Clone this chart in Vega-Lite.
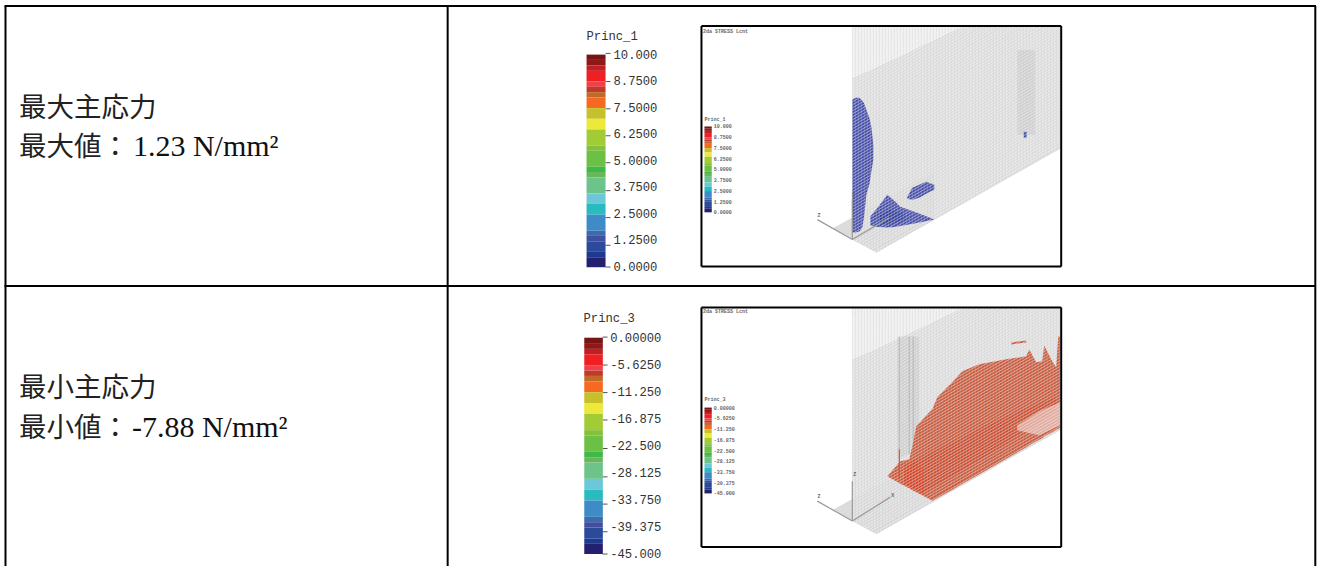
{"$schema":"https://vega.github.io/schema/vega-lite/v6.json","width":1317,"height":567,"padding":0,"autosize":{"type":"fit","contains":"padding"},"background":"white","view":{"stroke":null},
"encoding":{"x":{"field":"x","type":"quantitative","scale":{"domain":[0,1317],"nice":false,"zero":false},"axis":null},"y":{"field":"y","type":"quantitative","scale":{"domain":[0,567],"reverse":true,"nice":false,"zero":false},"axis":null}},
"resolve":{"scale":{"color":"independent"}},
"layer":[
{"data":{"values":[
{"region":"w1","kind":"wall","x":853,"y":78,"y2":240},{"region":"w1","kind":"wall","x":877,"y":67,"y2":253},{"region":"w1","kind":"wall","x":962,"y":27,"y2":205},{"region":"w1","kind":"wall","x":1061,"y":27,"y2":149},
{"region":"t1","kind":"top","x":853,"y":27,"y2":78},{"region":"t1","kind":"top","x":962,"y":27,"y2":27},
{"region":"p1","kind":"plate","x":833,"y":229,"y2":229},{"region":"p1","kind":"plate","x":853,"y":218,"y2":240},{"region":"p1","kind":"plate","x":877,"y":204,"y2":253},{"region":"p1","kind":"plate","x":935,"y":172,"y2":220},
{"region":"w2","kind":"wall","x":853,"y":360,"y2":522},{"region":"w2","kind":"wall","x":877,"y":349,"y2":535},{"region":"w2","kind":"wall","x":962,"y":309,"y2":487},{"region":"w2","kind":"wall","x":1061,"y":309,"y2":431},
{"region":"t2","kind":"top","x":853,"y":309,"y2":360},{"region":"t2","kind":"top","x":962,"y":309,"y2":309},
{"region":"p2","kind":"plate","x":833,"y":511,"y2":511},{"region":"p2","kind":"plate","x":853,"y":500,"y2":522},{"region":"p2","kind":"plate","x":877,"y":486,"y2":535},{"region":"p2","kind":"plate","x":935,"y":454,"y2":502},
{"region":"s1","kind":"shade","x":1018,"y":50,"y2":135},{"region":"s1","kind":"shade","x":1036,"y":50,"y2":135},
{"region":"s2","kind":"shade","x":898,"y":337,"y2":460},{"region":"s2","kind":"shade","x":920,"y":337,"y2":450},
{"region":"b1","kind":"blue","x":853,"y":100,"y2":233},{"region":"b1","kind":"blue","x":856,"y":98,"y2":233},{"region":"b1","kind":"blue","x":860,"y":98,"y2":232},{"region":"b1","kind":"blue","x":863,"y":101,"y2":228},{"region":"b1","kind":"blue","x":865,"y":104,"y2":215},{"region":"b1","kind":"blue","x":867,"y":110,"y2":195},{"region":"b1","kind":"blue","x":870,"y":118,"y2":185},{"region":"b1","kind":"blue","x":872,"y":127,"y2":172},{"region":"b1","kind":"blue","x":874,"y":145,"y2":160},
{"region":"b2","kind":"blue","x":871,"y":217,"y2":226},{"region":"b2","kind":"blue","x":879,"y":207,"y2":227.5},{"region":"b2","kind":"blue","x":888,"y":195,"y2":228},{"region":"b2","kind":"blue","x":895,"y":201,"y2":227.5},{"region":"b2","kind":"blue","x":901,"y":207,"y2":226.5},{"region":"b2","kind":"blue","x":915,"y":212,"y2":224},{"region":"b2","kind":"blue","x":925,"y":216,"y2":222},{"region":"b2","kind":"blue","x":935,"y":220,"y2":220},
{"region":"b3","kind":"blue","x":908,"y":197,"y2":199},{"region":"b3","kind":"blue","x":913,"y":188,"y2":200},{"region":"b3","kind":"blue","x":920,"y":185,"y2":198},{"region":"b3","kind":"blue","x":927,"y":182,"y2":194},{"region":"b3","kind":"blue","x":935,"y":185,"y2":190},
{"region":"b4","kind":"blue","x":1024.5,"y":132,"y2":138},{"region":"b4","kind":"blue","x":1027.5,"y":132,"y2":138},
{"region":"b5","kind":"blueCore","x":880,"y":216,"y2":224},{"region":"b5","kind":"blueCore","x":890,"y":210,"y2":225},{"region":"b5","kind":"blueCore","x":905,"y":214,"y2":220},
{"region":"r1","kind":"red","x":888,"y":477,"y2":477},{"region":"r1","kind":"red","x":901,"y":462,"y2":484.5},{"region":"r1","kind":"red","x":910,"y":460,"y2":489},{"region":"r1","kind":"red","x":913,"y":447,"y2":491},{"region":"r1","kind":"red","x":917,"y":427,"y2":493},{"region":"r1","kind":"red","x":930,"y":413,"y2":500},{"region":"r1","kind":"red","x":933,"y":410,"y2":501.7},{"region":"r1","kind":"red","x":938,"y":398,"y2":499},{"region":"r1","kind":"red","x":953,"y":383,"y2":490.7},{"region":"r1","kind":"red","x":963,"y":372,"y2":484.5},{"region":"r1","kind":"red","x":980,"y":365,"y2":475},{"region":"r1","kind":"red","x":1007,"y":360,"y2":459.5},{"region":"r1","kind":"red","x":1027,"y":357,"y2":448},{"region":"r1","kind":"red","x":1030,"y":350,"y2":446},{"region":"r1","kind":"red","x":1037,"y":363,"y2":442},{"region":"r1","kind":"red","x":1043,"y":362,"y2":439},{"region":"r1","kind":"red","x":1045,"y":346,"y2":437},{"region":"r1","kind":"red","x":1053,"y":362,"y2":433},{"region":"r1","kind":"red","x":1057,"y":368,"y2":430.5},{"region":"r1","kind":"red","x":1059,"y":337,"y2":429.5},{"region":"r1","kind":"red","x":1061,"y":337,"y2":428.5},
{"region":"r2","kind":"red","x":1012,"y":343,"y2":345},{"region":"r2","kind":"red","x":1027,"y":341,"y2":343},
{"region":"r3","kind":"redBand","x":905,"y":465,"y2":484},{"region":"r3","kind":"redBand","x":923,"y":457,"y2":494},{"region":"r3","kind":"redBand","x":960,"y":440,"y2":473},{"region":"r3","kind":"redBand","x":1000,"y":420,"y2":448},{"region":"r3","kind":"redBand","x":1057,"y":398,"y2":412},
{"region":"r4","kind":"redCore","x":905,"y":470,"y2":485},{"region":"r4","kind":"redCore","x":915,"y":462,"y2":490},{"region":"r4","kind":"redCore","x":925,"y":470,"y2":496},
{"region":"r5","kind":"whiten","x":1018,"y":426,"y2":431},{"region":"r5","kind":"whiten","x":1040,"y":412,"y2":436},{"region":"r5","kind":"whiten","x":1061,"y":403,"y2":426}
]},
"mark":{"type":"area","orient":"vertical","stroke":null},
"encoding":{"y2":{"field":"y2"},"detail":{"field":"region"},"color":{"field":"kind","type":"nominal","legend":null,"scale":{"domain":["wall","top","plate","shade","blue","blueCore","red","redBand","redCore","whiten"],"range":["#e0e0e0","#f0f0f0","#dcdcdc","rgba(150,150,150,0.2)","rgba(60,70,165,0.95)","rgba(40,50,150,0.6)","rgba(200,80,50,0.95)","rgba(205,55,25,0.35)","rgba(225,50,20,0.45)","rgba(255,255,255,0.5)"]}}}},

{"data":{"values":[
{"x":853,"y":36,"x2":869,"y2":27},{"x":853,"y":42,"x2":879,"y2":27},{"x":853,"y":48,"x2":890,"y2":27},{"x":853,"y":54,"x2":900,"y2":27},{"x":853,"y":60,"x2":911,"y2":27},{"x":853,"y":66,"x2":921,"y2":27},{"x":853,"y":72,"x2":932,"y2":27},{"x":853,"y":78,"x2":942,"y2":27},{"x":853,"y":84,"x2":953,"y2":27},{"x":853,"y":90,"x2":964,"y2":27},{"x":853,"y":96,"x2":974,"y2":27},{"x":853,"y":102,"x2":985,"y2":27},{"x":853,"y":108,"x2":995,"y2":27},{"x":853,"y":114,"x2":1006,"y2":27},{"x":853,"y":120,"x2":1016,"y2":27},{"x":853,"y":126,"x2":1027,"y2":27},{"x":853,"y":132,"x2":1037,"y2":27},{"x":853,"y":138,"x2":1048,"y2":27},{"x":853,"y":144,"x2":1058,"y2":27},
{"x":853,"y":150,"x2":1061,"y2":31},{"x":853,"y":156,"x2":1061,"y2":37},{"x":853,"y":162,"x2":1061,"y2":43},{"x":853,"y":168,"x2":1061,"y2":49},{"x":853,"y":174,"x2":1061,"y2":55},{"x":853,"y":180,"x2":1061,"y2":61},{"x":853,"y":186,"x2":1061,"y2":67},{"x":853,"y":192,"x2":1061,"y2":73},{"x":853,"y":198,"x2":1061,"y2":79},{"x":853,"y":204,"x2":1061,"y2":85},{"x":853,"y":210,"x2":1061,"y2":91},{"x":853,"y":216,"x2":1061,"y2":97},{"x":853,"y":222,"x2":1061,"y2":103},{"x":853,"y":228,"x2":1061,"y2":109},{"x":853,"y":234,"x2":1061,"y2":115},{"x":853,"y":240,"x2":1061,"y2":121},{"x":858,"y":243,"x2":1061,"y2":127},{"x":864,"y":246,"x2":1061,"y2":133},{"x":869,"y":249,"x2":1061,"y2":139},{"x":875,"y":252,"x2":1061,"y2":145},
{"x":853,"y":39,"x2":874,"y2":27},{"x":853,"y":45,"x2":885,"y2":27},{"x":853,"y":51,"x2":895,"y2":27},{"x":853,"y":57,"x2":906,"y2":27},{"x":853,"y":63,"x2":916,"y2":27},{"x":853,"y":69,"x2":927,"y2":27},{"x":853,"y":75,"x2":937,"y2":27},{"x":853,"y":81,"x2":948,"y2":27},{"x":853,"y":87,"x2":958,"y2":27},{"x":853,"y":93,"x2":969,"y2":27},{"x":853,"y":99,"x2":979,"y2":27},{"x":853,"y":105,"x2":990,"y2":27},{"x":853,"y":111,"x2":1000,"y2":27},{"x":853,"y":117,"x2":1011,"y2":27},{"x":853,"y":123,"x2":1021,"y2":27},{"x":853,"y":129,"x2":1032,"y2":27},{"x":853,"y":135,"x2":1042,"y2":27},{"x":853,"y":141,"x2":1053,"y2":27},{"x":853,"y":147,"x2":1061,"y2":28},
{"x":853,"y":153,"x2":1061,"y2":34},{"x":853,"y":159,"x2":1061,"y2":40},{"x":853,"y":165,"x2":1061,"y2":46},{"x":853,"y":171,"x2":1061,"y2":52},{"x":853,"y":177,"x2":1061,"y2":58},{"x":853,"y":183,"x2":1061,"y2":64},{"x":853,"y":189,"x2":1061,"y2":70},{"x":853,"y":195,"x2":1061,"y2":76},{"x":853,"y":201,"x2":1061,"y2":82},{"x":853,"y":207,"x2":1061,"y2":88},{"x":853,"y":213,"x2":1061,"y2":94},{"x":853,"y":219,"x2":1061,"y2":100},{"x":853,"y":225,"x2":1061,"y2":106},{"x":853,"y":231,"x2":1061,"y2":112},{"x":853,"y":237,"x2":1061,"y2":118},{"x":856,"y":241.5,"x2":1061,"y2":124},{"x":861,"y":244.4,"x2":1061,"y2":130},{"x":866.5,"y":247.4,"x2":1061,"y2":136},{"x":872,"y":250,"x2":1061,"y2":142},
{"x":853,"y":318,"x2":869,"y2":309},{"x":853,"y":324,"x2":879,"y2":309},{"x":853,"y":330,"x2":890,"y2":309},{"x":853,"y":336,"x2":900,"y2":309},{"x":853,"y":342,"x2":911,"y2":309},{"x":853,"y":348,"x2":921,"y2":309},{"x":853,"y":354,"x2":932,"y2":309},{"x":853,"y":360,"x2":942,"y2":309},{"x":853,"y":366,"x2":953,"y2":309},{"x":853,"y":372,"x2":964,"y2":309},{"x":853,"y":378,"x2":974,"y2":309},{"x":853,"y":384,"x2":985,"y2":309},{"x":853,"y":390,"x2":995,"y2":309},{"x":853,"y":396,"x2":1006,"y2":309},{"x":853,"y":402,"x2":1016,"y2":309},{"x":853,"y":408,"x2":1027,"y2":309},{"x":853,"y":414,"x2":1037,"y2":309},{"x":853,"y":420,"x2":1048,"y2":309},{"x":853,"y":426,"x2":1058,"y2":309},
{"x":853,"y":432,"x2":1061,"y2":313},{"x":853,"y":438,"x2":1061,"y2":319},{"x":853,"y":444,"x2":1061,"y2":325},{"x":853,"y":450,"x2":1061,"y2":331},{"x":853,"y":456,"x2":1061,"y2":337},{"x":853,"y":462,"x2":1061,"y2":343},{"x":853,"y":468,"x2":1061,"y2":349},{"x":853,"y":474,"x2":1061,"y2":355},{"x":853,"y":480,"x2":1061,"y2":361},{"x":853,"y":486,"x2":1061,"y2":367},{"x":853,"y":492,"x2":1061,"y2":373},{"x":853,"y":498,"x2":1061,"y2":379},{"x":853,"y":504,"x2":1061,"y2":385},{"x":853,"y":510,"x2":1061,"y2":391},{"x":853,"y":516,"x2":1061,"y2":397},{"x":853,"y":522,"x2":1061,"y2":403},{"x":858,"y":525,"x2":1061,"y2":409},{"x":864,"y":528,"x2":1061,"y2":415},{"x":869,"y":531,"x2":1061,"y2":421},{"x":875,"y":534,"x2":1061,"y2":427},
{"x":853,"y":321,"x2":874,"y2":309},{"x":853,"y":327,"x2":885,"y2":309},{"x":853,"y":333,"x2":895,"y2":309},{"x":853,"y":339,"x2":906,"y2":309},{"x":853,"y":345,"x2":916,"y2":309},{"x":853,"y":351,"x2":927,"y2":309},{"x":853,"y":357,"x2":937,"y2":309},{"x":853,"y":363,"x2":948,"y2":309},{"x":853,"y":369,"x2":958,"y2":309},{"x":853,"y":375,"x2":969,"y2":309},{"x":853,"y":381,"x2":979,"y2":309},{"x":853,"y":387,"x2":990,"y2":309},{"x":853,"y":393,"x2":1000,"y2":309},{"x":853,"y":399,"x2":1011,"y2":309},{"x":853,"y":405,"x2":1021,"y2":309},{"x":853,"y":411,"x2":1032,"y2":309},{"x":853,"y":417,"x2":1042,"y2":309},{"x":853,"y":423,"x2":1053,"y2":309},{"x":853,"y":429,"x2":1061,"y2":310},
{"x":853,"y":435,"x2":1061,"y2":316},{"x":853,"y":441,"x2":1061,"y2":322},{"x":853,"y":447,"x2":1061,"y2":328},{"x":853,"y":453,"x2":1061,"y2":334},{"x":853,"y":459,"x2":1061,"y2":340},{"x":853,"y":465,"x2":1061,"y2":346},{"x":853,"y":471,"x2":1061,"y2":352},{"x":853,"y":477,"x2":1061,"y2":358},{"x":853,"y":483,"x2":1061,"y2":364},{"x":853,"y":489,"x2":1061,"y2":370},{"x":853,"y":495,"x2":1061,"y2":376},{"x":853,"y":501,"x2":1061,"y2":382},{"x":853,"y":507,"x2":1061,"y2":388},{"x":853,"y":513,"x2":1061,"y2":394},{"x":853,"y":519,"x2":1061,"y2":400},{"x":856,"y":523.5,"x2":1061,"y2":406},{"x":861,"y":526.4,"x2":1061,"y2":412},{"x":866.5,"y":529.4,"x2":1061,"y2":418},{"x":872,"y":532,"x2":1061,"y2":424}
]},"mark":{"type":"rule","color":"#ffffff","strokeWidth":0.8,"opacity":0.6},"encoding":{"x2":{"field":"x2"},"y2":{"field":"y2"}}},

{"data":{"values":[
{"x":853,"y":27,"y2":240},{"x":859,"y":27,"y2":243},{"x":865,"y":27,"y2":246},{"x":871,"y":27,"y2":250},{"x":877,"y":27,"y2":253},{"x":883,"y":27,"y2":250},{"x":889,"y":27,"y2":246},{"x":895,"y":27,"y2":243},{"x":901,"y":27,"y2":239},{"x":907,"y":27,"y2":236},{"x":913,"y":27,"y2":232},{"x":919,"y":27,"y2":229},{"x":925,"y":27,"y2":226},{"x":931,"y":27,"y2":222},{"x":937,"y":27,"y2":219},{"x":943,"y":27,"y2":216},{"x":949,"y":27,"y2":212},{"x":955,"y":27,"y2":209},{"x":961,"y":27,"y2":205},{"x":967,"y":27,"y2":202},{"x":973,"y":27,"y2":198},{"x":979,"y":27,"y2":195},{"x":985,"y":27,"y2":192},{"x":991,"y":27,"y2":188},{"x":997,"y":27,"y2":185},{"x":1003,"y":27,"y2":181},{"x":1009,"y":27,"y2":178},{"x":1015,"y":27,"y2":175},{"x":1021,"y":27,"y2":171},{"x":1027,"y":27,"y2":168},{"x":1033,"y":27,"y2":164},{"x":1039,"y":27,"y2":161},{"x":1045,"y":27,"y2":158},{"x":1051,"y":27,"y2":154},{"x":1057,"y":27,"y2":151},
{"x":856,"y":27,"y2":242},{"x":862,"y":27,"y2":245},{"x":868,"y":27,"y2":248},{"x":874,"y":27,"y2":251},{"x":880,"y":27,"y2":252},{"x":886,"y":27,"y2":248},{"x":892,"y":27,"y2":245},{"x":898,"y":27,"y2":241},{"x":904,"y":27,"y2":238},{"x":910,"y":27,"y2":234},{"x":916,"y":27,"y2":231},{"x":922,"y":27,"y2":227},{"x":928,"y":27,"y2":224},{"x":934,"y":27,"y2":221},{"x":940,"y":27,"y2":217},{"x":946,"y":27,"y2":214},{"x":952,"y":27,"y2":210},{"x":958,"y":27,"y2":207},{"x":964,"y":27,"y2":204},{"x":970,"y":27,"y2":200},{"x":976,"y":27,"y2":197},{"x":982,"y":27,"y2":193},{"x":988,"y":27,"y2":190},{"x":994,"y":27,"y2":187},{"x":1000,"y":27,"y2":183},{"x":1006,"y":27,"y2":180},{"x":1012,"y":27,"y2":176},{"x":1018,"y":27,"y2":173},{"x":1024,"y":27,"y2":170},{"x":1030,"y":27,"y2":166},{"x":1036,"y":27,"y2":163},{"x":1042,"y":27,"y2":159},{"x":1048,"y":27,"y2":156},{"x":1054,"y":27,"y2":152},{"x":1060,"y":27,"y2":149},
{"x":853,"y":309,"y2":522},{"x":859,"y":309,"y2":525},{"x":865,"y":309,"y2":528},{"x":871,"y":309,"y2":532},{"x":877,"y":309,"y2":535},{"x":883,"y":309,"y2":532},{"x":889,"y":309,"y2":528},{"x":895,"y":309,"y2":525},{"x":901,"y":309,"y2":521},{"x":907,"y":309,"y2":518},{"x":913,"y":309,"y2":514},{"x":919,"y":309,"y2":511},{"x":925,"y":309,"y2":508},{"x":931,"y":309,"y2":504},{"x":937,"y":309,"y2":501},{"x":943,"y":309,"y2":498},{"x":949,"y":309,"y2":494},{"x":955,"y":309,"y2":491},{"x":961,"y":309,"y2":487},{"x":967,"y":309,"y2":484},{"x":973,"y":309,"y2":480},{"x":979,"y":309,"y2":477},{"x":985,"y":309,"y2":474},{"x":991,"y":309,"y2":470},{"x":997,"y":309,"y2":467},{"x":1003,"y":309,"y2":463},{"x":1009,"y":309,"y2":460},{"x":1015,"y":309,"y2":457},{"x":1021,"y":309,"y2":453},{"x":1027,"y":309,"y2":450},{"x":1033,"y":309,"y2":446},{"x":1039,"y":309,"y2":443},{"x":1045,"y":309,"y2":440},{"x":1051,"y":309,"y2":436},{"x":1057,"y":309,"y2":433},
{"x":856,"y":309,"y2":524},{"x":862,"y":309,"y2":527},{"x":868,"y":309,"y2":530},{"x":874,"y":309,"y2":533},{"x":880,"y":309,"y2":534},{"x":886,"y":309,"y2":530},{"x":892,"y":309,"y2":527},{"x":898,"y":309,"y2":523},{"x":904,"y":309,"y2":520},{"x":910,"y":309,"y2":516},{"x":916,"y":309,"y2":513},{"x":922,"y":309,"y2":509},{"x":928,"y":309,"y2":506},{"x":934,"y":309,"y2":503},{"x":940,"y":309,"y2":499},{"x":946,"y":309,"y2":496},{"x":952,"y":309,"y2":492},{"x":958,"y":309,"y2":489},{"x":964,"y":309,"y2":486},{"x":970,"y":309,"y2":482},{"x":976,"y":309,"y2":479},{"x":982,"y":309,"y2":475},{"x":988,"y":309,"y2":472},{"x":994,"y":309,"y2":469},{"x":1000,"y":309,"y2":465},{"x":1006,"y":309,"y2":462},{"x":1012,"y":309,"y2":458},{"x":1018,"y":309,"y2":455},{"x":1024,"y":309,"y2":452},{"x":1030,"y":309,"y2":448},{"x":1036,"y":309,"y2":445},{"x":1042,"y":309,"y2":441},{"x":1048,"y":309,"y2":438},{"x":1054,"y":309,"y2":434},{"x":1060,"y":309,"y2":431}
]},"mark":{"type":"rule","color":"#c6c6c6","strokeWidth":0.6,"opacity":0.55},"encoding":{"y2":{"field":"y2"}}},

{"data":{"values":[
{"kind":"axis","x":853,"y":240,"x2":853,"y2":200},{"kind":"axis","x":853,"y":240,"x2":818,"y2":220},{"kind":"axis","x":853,"y":240,"x2":890,"y2":218},
{"kind":"axis","x":853,"y":522,"x2":853,"y2":482},{"kind":"axis","x":853,"y":522,"x2":818,"y2":502},{"kind":"axis","x":853,"y":522,"x2":891,"y2":498},
{"kind":"dark","x":853,"y":190,"x2":853,"y2":233},{"kind":"dark","x":900,"y":337,"x2":900,"y2":450},{"kind":"dark","x":910,"y":337,"x2":910,"y2":455},{"kind":"dark","x":914,"y":337,"x2":914,"y2":440},
{"kind":"spike","x":900,"y":450,"x2":900,"y2":480}
]},"mark":{"type":"rule","strokeWidth":1.2},"encoding":{"x2":{"field":"x2"},"y2":{"field":"y2"},"color":{"field":"kind","type":"nominal","legend":null,"scale":{"domain":["axis","dark","spike"],"range":["#9a9a9a","rgba(130,130,130,0.3)","#c8583c"]}}}},

{"data":{"values":[
{"x":5.5,"y":6,"x2":5.5,"y2":567},{"x":448,"y":6,"x2":448,"y2":567},{"x":1316.3,"y":6,"x2":1316.3,"y2":567},{"x":4.5,"y":6,"x2":1317,"y2":6},{"x":4.5,"y":286.5,"x2":1317,"y2":286.5},
{"x":702,"y":26,"x2":1062,"y2":26},{"x":702,"y":267,"x2":1062,"y2":267},{"x":702,"y":26,"x2":702,"y2":267},{"x":1062,"y":26,"x2":1062,"y2":267},
{"x":702,"y":308,"x2":1062,"y2":308},{"x":702,"y":548,"x2":1062,"y2":548},{"x":702,"y":308,"x2":702,"y2":548},{"x":1062,"y":308,"x2":1062,"y2":548}
]},"mark":{"type":"rule","color":"#000000","strokeWidth":2},"encoding":{"x2":{"field":"x2"},"y2":{"field":"y2"}}},

{"data":{"values":[
{"x":606,"x2":611,"y":53.5},{"x":606,"x2":611,"y":81.7},{"x":606,"x2":611,"y":109},{"x":606,"x2":611,"y":136},{"x":606,"x2":611,"y":163},{"x":606,"x2":611,"y":191},{"x":606,"x2":611,"y":218},{"x":606,"x2":611,"y":245.7},{"x":606,"x2":611,"y":267.5},
{"x":603,"x2":608,"y":337.7},{"x":603,"x2":608,"y":365.7},{"x":603,"x2":608,"y":393.3},{"x":603,"x2":608,"y":420.7},{"x":603,"x2":608,"y":449.3},{"x":603,"x2":608,"y":477.7},{"x":603,"x2":608,"y":505},{"x":603,"x2":608,"y":532.7},{"x":603,"x2":608,"y":555}
]},"mark":{"type":"rule","color":"#555555","strokeWidth":1},"encoding":{"x2":{"field":"x2"}}},

{"data":{"values":[
{"b":"01","x":587,"x2":606,"y":54.7,"y2":60},{"b":"02","x":587,"x2":606,"y":60,"y2":65.7},{"b":"03","x":587,"x2":606,"y":65.7,"y2":71},{"b":"04","x":587,"x2":606,"y":71,"y2":81.7},{"b":"05","x":587,"x2":606,"y":81.7,"y2":87},{"b":"06","x":587,"x2":606,"y":87,"y2":92.3},{"b":"07","x":587,"x2":606,"y":92.3,"y2":97.7},{"b":"08","x":587,"x2":606,"y":97.7,"y2":108.3},{"b":"09","x":587,"x2":606,"y":108.3,"y2":119},{"b":"10","x":587,"x2":606,"y":119,"y2":129.7},{"b":"11","x":587,"x2":606,"y":129.7,"y2":145.7},{"b":"12","x":587,"x2":606,"y":145.7,"y2":151},{"b":"13","x":587,"x2":606,"y":151,"y2":167},{"b":"14","x":587,"x2":606,"y":167,"y2":172.3},{"b":"15","x":587,"x2":606,"y":172.3,"y2":177.7},{"b":"16","x":587,"x2":606,"y":177.7,"y2":193.7},{"b":"17","x":587,"x2":606,"y":193.7,"y2":204.3},{"b":"18","x":587,"x2":606,"y":204.3,"y2":215},{"b":"19","x":587,"x2":606,"y":215,"y2":231},{"b":"20","x":587,"x2":606,"y":231,"y2":236.3},{"b":"21","x":587,"x2":606,"y":236.3,"y2":241.7},{"b":"22","x":587,"x2":606,"y":241.7,"y2":252.3},{"b":"23","x":587,"x2":606,"y":252.3,"y2":257.7},{"b":"24","x":587,"x2":606,"y":257.7,"y2":267.7},
{"b":"01","x":584.7,"x2":603.3,"y":338.3,"y2":343.7},{"b":"02","x":584.7,"x2":603.3,"y":343.7,"y2":349.5},{"b":"03","x":584.7,"x2":603.3,"y":349.5,"y2":354.9},{"b":"04","x":584.7,"x2":603.3,"y":354.9,"y2":365.8},{"b":"05","x":584.7,"x2":603.3,"y":365.8,"y2":371.2},{"b":"06","x":584.7,"x2":603.3,"y":371.2,"y2":376.6},{"b":"07","x":584.7,"x2":603.3,"y":376.6,"y2":382},{"b":"08","x":584.7,"x2":603.3,"y":382,"y2":392.9},{"b":"09","x":584.7,"x2":603.3,"y":392.9,"y2":403.7},{"b":"10","x":584.7,"x2":603.3,"y":403.7,"y2":414.6},{"b":"11","x":584.7,"x2":603.3,"y":414.6,"y2":430.9},{"b":"12","x":584.7,"x2":603.3,"y":430.9,"y2":436.3},{"b":"13","x":584.7,"x2":603.3,"y":436.3,"y2":452.6},{"b":"14","x":584.7,"x2":603.3,"y":452.6,"y2":458},{"b":"15","x":584.7,"x2":603.3,"y":458,"y2":463.4},{"b":"16","x":584.7,"x2":603.3,"y":463.4,"y2":479.7},{"b":"17","x":584.7,"x2":603.3,"y":479.7,"y2":490.6},{"b":"18","x":584.7,"x2":603.3,"y":490.6,"y2":501.4},{"b":"19","x":584.7,"x2":603.3,"y":501.4,"y2":517.7},{"b":"20","x":584.7,"x2":603.3,"y":517.7,"y2":523.1},{"b":"21","x":584.7,"x2":603.3,"y":523.1,"y2":528.5},{"b":"22","x":584.7,"x2":603.3,"y":528.5,"y2":539.4},{"b":"23","x":584.7,"x2":603.3,"y":539.4,"y2":544.8},{"b":"24","x":584.7,"x2":603.3,"y":544.8,"y2":555},
{"b":"01","x":705,"x2":712.3,"y":126.7,"y2":128.9},{"b":"02","x":705,"x2":712.3,"y":128.9,"y2":131.1},{"b":"03","x":705,"x2":712.3,"y":131.1,"y2":133.3},{"b":"04","x":705,"x2":712.3,"y":133.3,"y2":137.6},{"b":"05","x":705,"x2":712.3,"y":137.6,"y2":139.8},{"b":"06","x":705,"x2":712.3,"y":139.8,"y2":141.9},{"b":"07","x":705,"x2":712.3,"y":141.9,"y2":144.1},{"b":"08","x":705,"x2":712.3,"y":144.1,"y2":148.4},{"b":"09","x":705,"x2":712.3,"y":148.4,"y2":152.7},{"b":"10","x":705,"x2":712.3,"y":152.7,"y2":157},{"b":"11","x":705,"x2":712.3,"y":157,"y2":163.4},{"b":"12","x":705,"x2":712.3,"y":163.4,"y2":165.6},{"b":"13","x":705,"x2":712.3,"y":165.6,"y2":172},{"b":"14","x":705,"x2":712.3,"y":172,"y2":174.2},{"b":"15","x":705,"x2":712.3,"y":174.2,"y2":176.4},{"b":"16","x":705,"x2":712.3,"y":176.4,"y2":182.8},{"b":"17","x":705,"x2":712.3,"y":182.8,"y2":187.1},{"b":"18","x":705,"x2":712.3,"y":187.1,"y2":191.4},{"b":"19","x":705,"x2":712.3,"y":191.4,"y2":197.9},{"b":"20","x":705,"x2":712.3,"y":197.9,"y2":200},{"b":"21","x":705,"x2":712.3,"y":200,"y2":202.2},{"b":"22","x":705,"x2":712.3,"y":202.2,"y2":206.5},{"b":"23","x":705,"x2":712.3,"y":206.5,"y2":208.7},{"b":"24","x":705,"x2":712.3,"y":208.7,"y2":212.7},
{"b":"01","x":705,"x2":712.3,"y":408.3,"y2":410.5},{"b":"02","x":705,"x2":712.3,"y":410.5,"y2":412.7},{"b":"03","x":705,"x2":712.3,"y":412.7,"y2":414.9},{"b":"04","x":705,"x2":712.3,"y":414.9,"y2":419.2},{"b":"05","x":705,"x2":712.3,"y":419.2,"y2":421.4},{"b":"06","x":705,"x2":712.3,"y":421.4,"y2":423.5},{"b":"07","x":705,"x2":712.3,"y":423.5,"y2":425.7},{"b":"08","x":705,"x2":712.3,"y":425.7,"y2":430},{"b":"09","x":705,"x2":712.3,"y":430,"y2":434.3},{"b":"10","x":705,"x2":712.3,"y":434.3,"y2":438.6},{"b":"11","x":705,"x2":712.3,"y":438.6,"y2":445},{"b":"12","x":705,"x2":712.3,"y":445,"y2":447.2},{"b":"13","x":705,"x2":712.3,"y":447.2,"y2":453.6},{"b":"14","x":705,"x2":712.3,"y":453.6,"y2":455.8},{"b":"15","x":705,"x2":712.3,"y":455.8,"y2":458},{"b":"16","x":705,"x2":712.3,"y":458,"y2":464.4},{"b":"17","x":705,"x2":712.3,"y":464.4,"y2":468.7},{"b":"18","x":705,"x2":712.3,"y":468.7,"y2":473},{"b":"19","x":705,"x2":712.3,"y":473,"y2":479.5},{"b":"20","x":705,"x2":712.3,"y":479.5,"y2":481.6},{"b":"21","x":705,"x2":712.3,"y":481.6,"y2":483.8},{"b":"22","x":705,"x2":712.3,"y":483.8,"y2":488.1},{"b":"23","x":705,"x2":712.3,"y":488.1,"y2":490.3},{"b":"24","x":705,"x2":712.3,"y":490.3,"y2":494.3}
]},"mark":{"type":"rect"},"encoding":{"x2":{"field":"x2"},"y2":{"field":"y2"},"color":{"field":"b","type":"ordinal","legend":null,"scale":{"domain":["01","02","03","04","05","06","07","08","09","10","11","12","13","14","15","16","17","18","19","20","21","22","23","24"],"range":["#7a1414","#8f1818","#c02024","#ee2024","#f04048","#c0392b","#c06a2a","#f56a20","#c6c02c","#eee83a","#a2cc36","#84c03c","#6cc044","#3eb84a","#68b858","#6cc48a","#6cc8d8","#28bcc0","#3d8cc8","#3a6cb0","#41509e","#2c4a9c","#1e3a8e","#232070"]}}}},

{"data":{"values":[
{"x":19,"y":117,"t":"最大主応力"},{"x":19,"y":156,"t":"最大値："},{"x":19,"y":398,"t":"最小主応力"},{"x":19,"y":438,"t":"最小値："}
]},"mark":{"type":"text","font":"Noto Sans CJK JP","fontSize":27.5,"align":"left","baseline":"alphabetic","color":"#222222"},"encoding":{"text":{"field":"t"}}},
{"data":{"values":[
{"x":133,"y":156,"t":"1.23 N/mm²"},{"x":132,"y":438,"t":"-7.88 N/mm²"}
]},"mark":{"type":"text","font":"Liberation Serif","fontSize":30,"align":"left","baseline":"alphabetic","color":"#111111"},"encoding":{"text":{"field":"t"}}},

{"data":{"values":[
{"x":587,"y":35.7,"t":"Princ_1"},{"x":614,"y":54.7,"t":"10.000"},{"x":614,"y":81.3,"t":"8.7500"},{"x":614,"y":108,"t":"7.5000"},{"x":614,"y":134,"t":"6.2500"},{"x":614,"y":161,"t":"5.0000"},{"x":614,"y":187.7,"t":"3.7500"},{"x":614,"y":214,"t":"2.5000"},{"x":614,"y":240.7,"t":"1.2500"},{"x":614,"y":267.3,"t":"0.0000"},
{"x":584,"y":319,"t":"Princ_3"},{"x":610.7,"y":338.3,"t":"0.00000"},{"x":610.7,"y":365.7,"t":"-5.6250"},{"x":610.7,"y":392.7,"t":"-11.250"},{"x":610.7,"y":420,"t":"-16.875"},{"x":610.7,"y":446.7,"t":"-22.500"},{"x":610.7,"y":473.7,"t":"-28.125"},{"x":610.7,"y":500.7,"t":"-33.750"},{"x":610.7,"y":528,"t":"-39.375"},{"x":610.7,"y":555,"t":"-45.000"}
]},"mark":{"type":"text","font":"Liberation Mono","fontSize":12.2,"align":"left","baseline":"middle","color":"#333333"},"encoding":{"text":{"field":"t"}}},

{"data":{"values":[
{"x":705,"y":119,"t":"Princ_1"},{"x":714.3,"y":126.7,"t":"10.000"},{"x":714.3,"y":137.3,"t":"8.7500"},{"x":714.3,"y":148.3,"t":"7.5000"},{"x":714.3,"y":159,"t":"6.2500"},{"x":714.3,"y":169.7,"t":"5.0000"},{"x":714.3,"y":180.3,"t":"3.7500"},{"x":714.3,"y":191,"t":"2.5000"},{"x":714.3,"y":202,"t":"1.2500"},{"x":714.3,"y":212.7,"t":"0.0000"},
{"x":705,"y":400,"t":"Princ_3"},{"x":714.3,"y":408.3,"t":"0.00000"},{"x":714.3,"y":419,"t":"-5.6250"},{"x":714.3,"y":430,"t":"-11.250"},{"x":714.3,"y":440.7,"t":"-16.875"},{"x":714.3,"y":451.3,"t":"-22.500"},{"x":714.3,"y":462,"t":"-28.125"},{"x":714.3,"y":472.7,"t":"-33.750"},{"x":714.3,"y":483.7,"t":"-39.375"},{"x":714.3,"y":494.3,"t":"-45.000"},
{"x":703.5,"y":30.7,"t":"2da STRESS Lcnt"},{"x":703.5,"y":311.5,"t":"2da STRESS Lcnt"},
{"x":853,"y":195,"t":"Z"},{"x":818,"y":215,"t":"Z"},{"x":854,"y":475,"t":"Z"},{"x":818,"y":497,"t":"Z"},{"x":892,"y":496,"t":"X"}
]},"mark":{"type":"text","font":"Liberation Mono","fontSize":5,"fontWeight":"bold","align":"left","baseline":"middle","color":"#666666"},"encoding":{"text":{"field":"t"}}}
]}
